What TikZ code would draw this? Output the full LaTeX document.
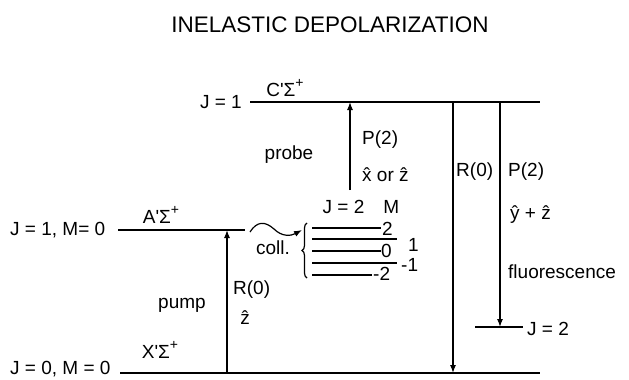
\documentclass[tikz,border=0pt]{standalone}
\usepackage{fontspec}
\setmainfont{Liberation Sans}
\usetikzlibrary{arrows.meta,decorations.pathreplacing}
\newcommand{\spl}{\raisebox{0.5em}{\fontsize{14}{14}\selectfont +}}
\begin{document}
\begin{tikzpicture}[x=1pt,y=-1pt,
  lvl/.style={line width=1.2pt},
  arr/.style={line width=1.2pt,-{Latex[length=8pt,width=6pt]}},
  lab/.style={inner sep=0pt,font=\fontsize{19}{22}\selectfont},
  ttl/.style={inner sep=0pt,font=\fontsize{22.5}{26}\selectfont}]
\useasboundingbox (0,0) rectangle (629,380);
\node[ttl] (title) at (330,25) {INELASTIC DEPOLARIZATION};
% levels
\coordinate (C1) at (250,102); \coordinate (C2) at (540,102);
\coordinate (A1) at (118,230); \coordinate (A2) at (245,230);
\coordinate (X1) at (120,373); \coordinate (X2) at (540,373);
\coordinate (F1) at (475,327); \coordinate (F2) at (523,327);
\draw[lvl] (C1) -- (C2);
\draw[lvl] (A1) -- (A2);
\draw[lvl] (X1) -- (X2);
\draw[lvl] (F1) -- (F2);
% level labels
\node[lab,anchor=east] (lJ1) at (242,102) {J = 1};
\node[lab] (lC) at (285,88) {C\textquotesingle Σ\spl};
\node[lab,anchor=west] (lJA) at (10,230) {J = 1, M= 0};
\node[lab] (lA) at (161,215) {A\textquotesingle Σ\spl};
\node[lab,anchor=west] (lJX) at (10,369) {J = 0, M = 0};
\node[lab] (lX) at (160,350) {X\textquotesingle Σ\spl};
\node[lab,anchor=west] (lJ2) at (527,329) {J = 2};
% pump
\coordinate (pB) at (227,373); \coordinate (pT) at (227,230);
\draw[arr] (pB) -- (pT);
\node[lab,anchor=west] (pR) at (233,290) {R(0)};
\node[lab] (pz) at (245,318) {\^{z}};
\node[lab] (pump) at (182,305) {pump};
% collision
\coordinate (w1) at (250,232); \coordinate (w2) at (302,230);
\draw[arr] (w1) .. controls (257,221) and (265,221) .. (274,229)
  .. controls (282,237) and (291,236) .. (w2);
\node[lab] (coll) at (273,248) {coll.};
% J=2 sublevels
\node[lab] (jm) at (361,207) {J = 2\hspace{1em}M};
\coordinate (s1a) at (312,228); \coordinate (s1b) at (381,228);
\coordinate (s2a) at (312,239); \coordinate (s2b) at (397,239);
\coordinate (s3a) at (312,251); \coordinate (s3b) at (381,251);
\coordinate (s4a) at (312,263); \coordinate (s4b) at (397,263);
\coordinate (s5a) at (312,275); \coordinate (s5b) at (372,275);
\draw[lvl] (s1a) -- (s1b);
\draw[lvl] (s2a) -- (s2b);
\draw[lvl] (s3a) -- (s3b);
\draw[lvl] (s4a) -- (s4b);
\draw[lvl] (s5a) -- (s5b);
\node[lab,anchor=west] (m2) at (382,229) {2};
\node[lab,anchor=west] (m0) at (381,251) {0};
\node[lab,anchor=west] (mm2) at (373,274) {-2};
\node[lab,anchor=west] (m1) at (408,245) {1};
\node[lab,anchor=west] (mm1) at (401,265) {-1};
\coordinate (bB) at (307,278); \coordinate (bT) at (307,223);
\draw[line width=1.2pt,decorate,decoration={brace,amplitude=5pt}] (bB) -- (bT);
% probe
\coordinate (prB) at (350,190); \coordinate (prT) at (350,102);
\draw[arr] (prB) -- (prT);
\node[lab] (probe) at (289,155) {probe};
\node[lab,anchor=west] (prP) at (362,140) {P(2)};
\node[lab,anchor=west] (prx) at (362,175) {\^{x} or \^{z}};
% fluorescence
\coordinate (rT) at (453,102); \coordinate (rB) at (453,373);
\draw[arr] (rT) -- (rB);
\coordinate (fT) at (500,102); \coordinate (fB) at (500,327);
\draw[arr] (fT) -- (fB);
\node[lab,anchor=west] (rR) at (456,172) {R(0)};
\node[lab,anchor=west] (fP) at (508,172) {P(2)};
\node[lab,anchor=west] (fy) at (510,215) {\^{y} + \^{z}};
\node[lab,anchor=west] (fl) at (508,272) {fluorescence};
\end{tikzpicture}
\end{document}
